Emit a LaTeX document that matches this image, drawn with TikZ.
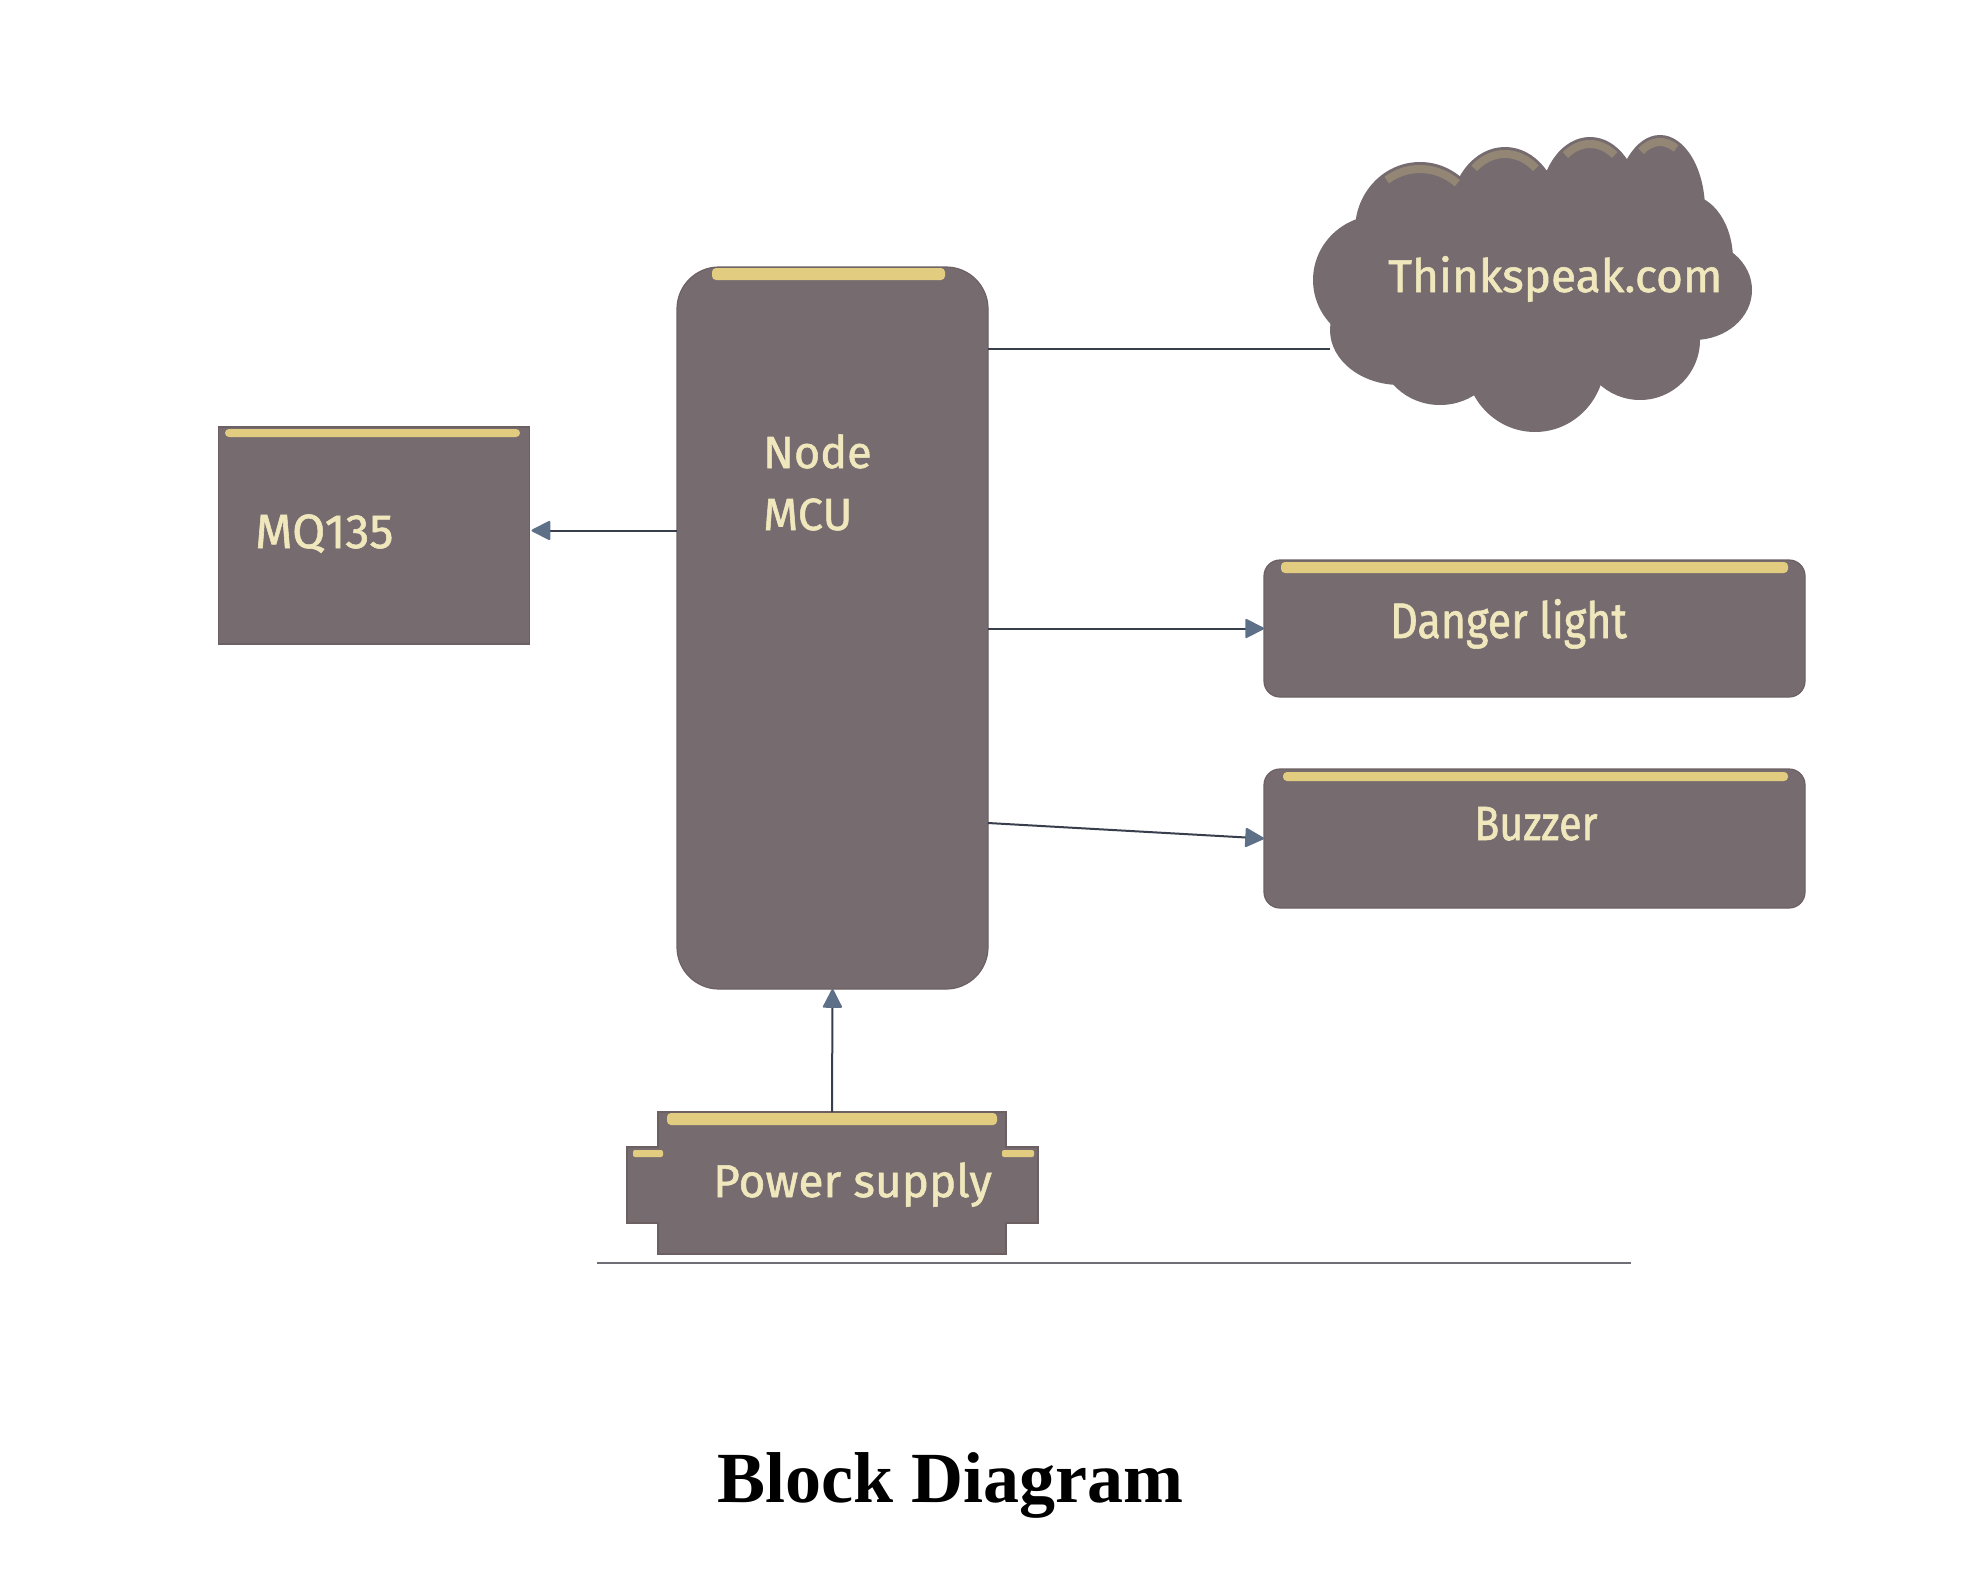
\documentclass[tikz,border=0pt]{standalone}
\usepackage{fontspec}
\setmainfont{Liberation Serif}
\newfontfamily\lblfont[FakeBold=1.2]{Fira Sans}
\newfontfamily\narrowfont[FakeStretch=0.86,FakeBold=1.2]{Fira Sans}
\usetikzlibrary{arrows.meta,calc}
\definecolor{boxfill}{RGB}{118,108,112}
\definecolor{boxedge}{RGB}{108,96,98}
\definecolor{hilite}{RGB}{226,204,128}
\definecolor{txtc}{RGB}{240,232,188}
\definecolor{wirec}{RGB}{56,62,76}
\definecolor{tipc}{RGB}{94,112,136}
\definecolor{rulec}{RGB}{110,110,116}
\tikzset{
  box/.style={fill=boxfill, draw=boxedge, line width=1.2pt, inner sep=0pt, outer sep=0pt},
  lbl/.style={text=txtc, inner sep=0pt, anchor=base west},
  wire/.style={draw=wirec, line width=2pt},
  arr/.style={wire, -{Triangle[length=20pt,width=20pt,round,color=tipc]}},
  strip/.style={fill=hilite, rounded corners=4pt},
}
\begin{document}
\begin{tikzpicture}[x=1pt,y=-1pt]
\useasboundingbox[fill=white] (0,0) rectangle (1988,1568);

% cloud
\begin{scope}[fill=boxfill]
  \fill (1540,280) ellipse [x radius=180, y radius=110];
  \fill (1420,230) ellipse [x radius=65, y radius=68];
  \fill (1505,215) ellipse [x radius=55, y radius=68];
  \fill (1590,205) ellipse [x radius=50, y radius=68];
  \fill (1660,210) ellipse [x radius=45, y radius=75];
  \fill (1688,260) ellipse [x radius=45, y radius=65];
  \fill (1694,290) ellipse [x radius=58, y radius=50];
  \fill (1380,280) ellipse [x radius=67, y radius=65];
  \fill (1400,330) ellipse [x radius=70, y radius=55];
  \fill (1440,350) ellipse [x radius=60, y radius=55];
  \fill (1535,360) ellipse [x radius=70, y radius=72];
  \fill (1640,340) ellipse [x radius=60, y radius=60];
\end{scope}
\begin{scope}[draw=hilite, line width=8pt, opacity=0.28]
  \draw (1420,230) ++(235:58 and 61) arc [start angle=235, end angle=310, x radius=58, y radius=61];
  \draw (1505,215) ++(230:48 and 61) arc [start angle=230, end angle=310, x radius=48, y radius=61];
  \draw (1590,205) ++(235:43 and 61) arc [start angle=235, end angle=305, x radius=43, y radius=61];
  \draw (1660,210) ++(240:38 and 68) arc [start angle=240, end angle=295, x radius=38, y radius=68];
\end{scope}
\node[lbl, font=\lblfont\fontsize{46}{55}\selectfont] (cloudtxt) at (1388,292) {Thinkspeak.com};
\coordinate (cloudL) at (1330,349);

% boxes
\node[box, minimum width=311pt, minimum height=722pt, rounded corners=42pt] (mcu) at (832.5,628) {};
\node[box, minimum width=311pt, minimum height=217pt] (mq) at (374,535.5) {};
\node[box, minimum width=541pt, minimum height=137pt, rounded corners=16pt] (danger) at (1534.5,628.5) {};
\node[box, minimum width=541pt, minimum height=139pt, rounded corners=16pt] (buzzer) at (1534.5,838.5) {};
\fill[boxfill, draw=boxedge, line width=1.2pt] (627,1147) rectangle (1038,1223);
\node[box, minimum width=348pt, minimum height=142pt] (power) at (832,1183) {};
\fill[boxfill] (628,1148) rectangle (1037,1222);

% highlight strips
\fill[strip] (225,429) rectangle (520,437);
\fill[strip] (712,268) rectangle (945,280);
\fill[strip] (1281,562) rectangle (1788,573);
\fill[strip] (1283,772) rectangle (1788,781);
\fill[strip] (667,1113) rectangle (997,1125);
\fill[strip, rounded corners=2pt] (633,1150) rectangle (663,1157);
\fill[strip, rounded corners=2pt] (1002,1150) rectangle (1034,1157);

% labels
\node[lbl, font=\lblfont\fontsize{45}{54}\selectfont] (nodetxt) at (763,468) {Node};
\node[lbl, font=\lblfont\fontsize{45}{54}\selectfont] (mcutxt) at (763,530) {MCU};
\node[lbl, font=\lblfont\fontsize{48}{58}\selectfont] (mqtxt) at (255,548) {MQ135};
\node[lbl, font=\narrowfont\fontsize{50}{60}\selectfont] (dangertxt) at (1390,638) {Danger light};
\node[lbl, font=\narrowfont\fontsize{48}{58}\selectfont] (buzzertxt) at (1474,840) {Buzzer};
\node[lbl, font=\lblfont\fontsize{46}{55}\selectfont] (powertxt) at (713,1197) {Power supply};

% connectors
\draw[wire] ($(mcu.east)+(0,-279)$) -- (cloudL);
\draw[arr] (mcu.west |- {$(mq.east)+(0,-5)$}) -- ($(mq.east)+(2,-5)$);
\draw[arr] (mcu.east |- danger.west) -- (danger.west);
\draw[arr] ($(mcu.east)+(0,195)$) -- (buzzer.west);
\draw[arr] (power.north) -- (mcu.south);

% base rule
\draw[rulec, line width=1.5pt] (597,1263) -- (1631,1263);

% title
\node[font=\bfseries\fontsize{72}{86}\selectfont, anchor=base, inner sep=0pt] (title) at (950,1502) {Block Diagram};
\end{tikzpicture}
\end{document}
